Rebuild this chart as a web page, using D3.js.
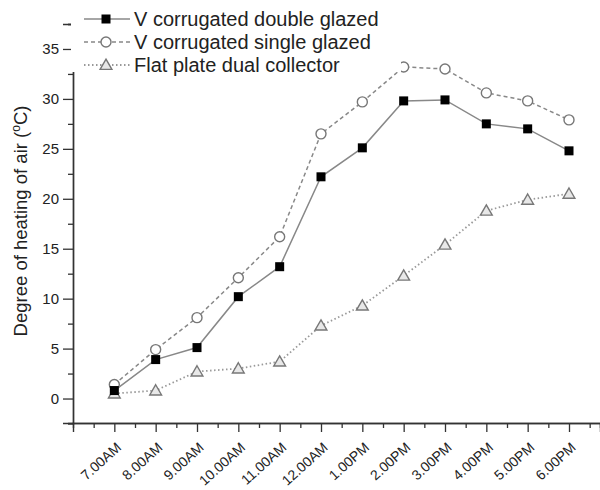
<!DOCTYPE html>
<html>
<head>
<meta charset="utf-8">
<script src="https://cdn.jsdelivr.net/npm/d3@7"></script>
<style>
  body { margin: 0; background: #fff; }
  svg { font-family: "Liberation Sans", Arial, sans-serif; }
</style>
</head>
<body>
<svg id="chart" width="600" height="490"></svg>
<script>
const times = ["7.00AM", "8.00AM", "9.00AM", "10.00AM", "11.00AM", "12.00AM",
    "1.00PM", "2.00PM", "3.00PM", "4.00PM", "5.00PM", "6.00PM"];
const doubleGlazed = [0.8, 3.9, 5.1, 10.2, 13.2, 22.2, 25.1, 29.8, 29.9, 27.5, 27.0, 24.8];
const singleGlazed = [1.4, 4.9, 8.1, 12.1, 16.2, 26.5, 29.7, 33.2, 33.0, 30.6, 29.8, 27.9];
const flatPlate = [0.5, 0.8, 2.7, 3.0, 3.7, 7.3, 9.3, 12.3, 15.4, 18.8, 19.9, 20.5];
const yTicks = [0, 5, 10, 15, 20, 25, 30, 35];

const series = [
    { name: "V corrugated double glazed", values: doubleGlazed, marker: "square", dash: null },
    { name: "V corrugated single glazed", values: singleGlazed, marker: "circle", dash: "4,3" },
    { name: "Flat plate dual collector", values: flatPlate, marker: "triangle", dash: "1.5,2.5" }
];

const svg = d3.select("#chart");

const x = d3.scaleLinear().domain([-1, 11.75]).range([73, 600]);
const y = d3.scaleLinear().domain([-2.45, 37.5]).range([423, 24]);

// y axis with minor ticks
const gy = svg.append("g").attr("transform", "translate(73,0)");
gy.call(d3.axisLeft(y).tickValues(d3.range(-2.5, 38, 2.5).filter(v => v % 5 !== 0)).tickSize(5).tickFormat(""));
gy.append("g").call(d3.axisLeft(y).tickValues(yTicks).tickSize(10).tickPadding(4));
gy.selectAll("path.domain").attr("stroke", "#333").attr("stroke-width", 1.4);
gy.selectAll(".tick line").attr("stroke", "#333").attr("stroke-width", 1.3);
gy.selectAll(".tick text").attr("font-size", 15).attr("fill", "#222").attr("font-family", "Liberation Sans, Arial, sans-serif");

// x axis with minor ticks
const gx = svg.append("g").attr("transform", "translate(0,423)");
gx.call(d3.axisBottom(x).tickValues(d3.range(-0.5, 11.6, 1)).tickSize(5).tickFormat(""));
gx.append("g").call(d3.axisBottom(x).tickValues(d3.range(0, 12)).tickSize(9).tickFormat(i => times[i]));
gx.selectAll("path.domain").attr("stroke", "#333").attr("stroke-width", 1.4);
gx.selectAll(".tick line").attr("stroke", "#333").attr("stroke-width", 1.3);
gx.selectAll(".tick text")
    .attr("font-size", 14)
    .attr("fill", "#222")
    .attr("font-family", "Liberation Sans, Arial, sans-serif")
    .attr("text-anchor", "end")
    .attr("y", 0)
    .attr("dy", "0.35em")
    .attr("transform", "translate(4,22) rotate(-42)");

// y label
svg.append("text")
    .attr("transform", "translate(27,221) rotate(-90)")
    .attr("text-anchor", "middle")
    .attr("font-size", 18.5)
    .attr("fill", "#222")
    .html('Degree of heating of air (<tspan baseline-shift="super" font-size="12">o</tspan>C)');

function drawMarker(g, type, cx, cy) {
    if (type === "square") {
        g.append("rect").attr("x", cx - 4.5).attr("y", cy - 4.5).attr("width", 9).attr("height", 9)
            .attr("fill", "#000");
    } else if (type === "circle") {
        g.append("circle").attr("cx", cx).attr("cy", cy).attr("r", 5)
            .attr("fill", "#fff").attr("stroke", "#777").attr("stroke-width", 1.4);
    } else {
        g.append("path").attr("d", d3.symbol(d3.symbolTriangle, 60)())
            .attr("transform", `translate(${cx},${cy + 1})`)
            .attr("fill", "#e8e8e8").attr("stroke", "#777").attr("stroke-width", 1.4);
    }
}

const line = d3.line().x((d, i) => x(i)).y(d => y(d));

const plot = svg.append("g");
series.slice().reverse().forEach(s => {
    plot.append("path")
        .datum(s.values)
        .attr("d", line)
        .attr("fill", "none")
        .attr("stroke", s.marker === "triangle" ? "#999" : "#888")
        .attr("stroke-width", s.marker === "triangle" ? 1.8 : 1.5)
        .attr("stroke-dasharray", s.dash);
    const mg = plot.append("g");
    s.values.forEach((v, i) => drawMarker(mg, s.marker, x(i), y(v)));
});

// legend
const legend = svg.append("g");
legend.append("rect").attr("x", 71).attr("y", 0).attr("width", 330).attr("height", 72).attr("fill", "#fff");
series.forEach((s, i) => {
    const ly = 19 + i * 23;
    legend.append("line")
        .attr("x1", 84).attr("x2", 130).attr("y1", ly).attr("y2", ly)
        .attr("stroke", s.marker === "triangle" ? "#999" : "#888")
        .attr("stroke-width", s.marker === "triangle" ? 1.8 : 1.5)
        .attr("stroke-dasharray", s.dash);
    drawMarker(legend, s.marker, 106, ly);
    legend.append("text")
        .attr("x", 134).attr("y", ly).attr("dy", "0.35em")
        .attr("font-size", 20).attr("fill", "#222")
        .text(s.name);
});
</script>
</body>
</html>
